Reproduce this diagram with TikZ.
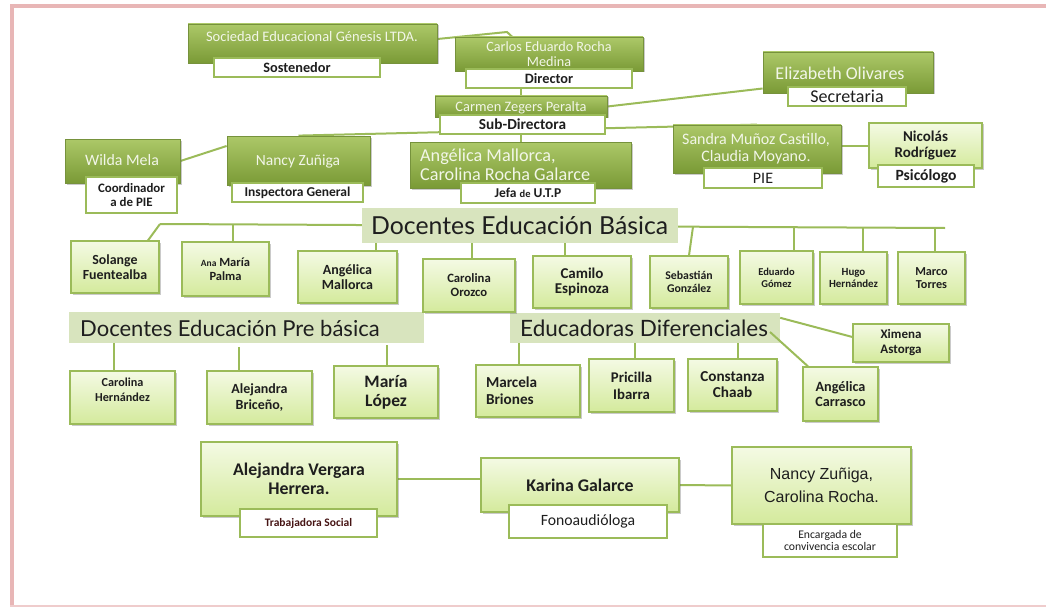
\documentclass[tikz,border=0pt]{standalone}
\usepackage{fontspec}
\setmainfont{Carlito}
\newfontfamily\hdrfont{Lato}
\newfontfamily\arialf{Liberation Sans}
\usetikzlibrary{shadows,calc}
\pgfdeclarelayer{bg}
\pgfsetlayers{bg,main}
\definecolor{dtop}{RGB}{172,200,104}
\definecolor{dbot}{RGB}{122,154,54}
\definecolor{dborder}{RGB}{118,146,60}
\definecolor{ltop}{RGB}{244,250,228}
\definecolor{lbot}{RGB}{212,234,156}
\definecolor{lborder}{RGB}{155,187,89}
\definecolor{hfill}{RGB}{216,228,190}
\definecolor{txt}{RGB}{30,30,30}
\definecolor{wtxt}{RGB}{242,246,232}
\definecolor{pinkb}{RGB}{232,182,182}
\definecolor{tsred}{RGB}{70,20,20}
\newcommand\fs[2]{\fontsize{#1}{#2}\selectfont}
\newcommand\gb[7]{\node[#1,minimum width={(#5-#3)*1pt},minimum height={(#6-#4)*1pt}] (#2) at ({(#3+#5)/2},{(#4+#6)/2}) {#7};}
\begin{document}
\begin{tikzpicture}[x=1pt,y=-1pt,
  ln/.style={draw=lborder, line width=2pt},
  shd/.style={drop shadow={shadow xshift=1.5pt, shadow yshift=-1.5pt, opacity=0.35, fill=black!60}},
  dbox/.style={rectangle, draw=dborder, line width=0.8pt, top color=dtop, bottom color=dbot, shd, inner sep=0pt},
  lbox/.style={rectangle, draw=lborder, line width=1.2pt, top color=ltop, bottom color=lbot, shd, inner sep=0pt, align=center, text=txt, font=\bfseries},
  tag/.style={rectangle, draw=lborder, line width=1.5pt, fill=white, inner sep=0pt, align=center, text=txt},
  hdr/.style={rectangle, fill=hfill, inner sep=0pt},
  wt/.style={text=wtxt, align=center, inner sep=0pt},
  htxt/.style={anchor=west, inner sep=0pt, text=txt, font=\hdrfont},
]
\useasboundingbox (0,0) rectangle (1046,607);
% frame
\draw[pinkb, line width=4pt] (10,6.5) -- (1046,6.5);
\draw[pinkb, line width=4pt] (12,4.5) -- (12,607);
\draw[pinkb!70, line width=2pt] (10,605.5) -- (1046,605.5);

% top dark boxes
\gb{dbox}{soc}{188}{24}{437}{63}{}
\gb{tag,font=\bfseries\fs{14.3}{16}}{sosL}{214}{58}{380}{77}{Sostenedor}
\node[wt,font=\fs{14.5}{16}] (socT) at (312,37) {Sociedad Educacional Génesis LTDA.};

\gb{dbox}{car}{455}{37}{643}{71}{}
\gb{tag,font=\bfseries\fs{14.3}{16}}{dirL}{466}{69}{632}{88}{Director}
\node[wt,font=\fs{14.2}{15}] (carT) at (549,54.5) {Carlos Eduardo Rocha\\Medina};

\gb{dbox}{carm}{435}{96}{607}{117}{}
\gb{tag,font=\bfseries\fs{15.3}{16}}{subL}{440}{115}{605}{134}{Sub-Directora}
\node[wt,font=\fs{14.4}{16}] (carmT) at (521,107.5) {Carmen Zegers Peralta};

\gb{dbox}{eliz}{763}{52}{933}{93}{}
\gb{tag,font=\fs{18}{18}}{secL}{788}{87}{906}{106}{Secretaria}
\node[wt,font=\fs{18}{18}] (elizT) at (840,73) {Elizabeth Olivares};

\gb{dbox}{wilda}{65}{139}{180}{183}{}
\gb{tag,font=\bfseries\fs{12.9}{14.5}}{coordL}{86}{177}{177}{213}{Coordinador\\a de PIE}
\node[wt,font=\fs{15.9}{17}] (wildaT) at (122,160) {Wilda Mela};

\gb{dbox}{nancy}{227}{136}{370}{185}{}
\gb{tag,font=\bfseries\fs{13.5}{15}}{inspL}{232}{183}{363}{202}{Inspectora General}
\node[wt,font=\fs{15.5}{17}] (nancyT) at (298,161) {Nancy Zuñiga};

\gb{dbox}{ang}{410}{142}{631}{188}{}
\gb{tag,font=\bfseries\fs{13.5}{15}}{jefaL}{461}{183}{595}{203}{Jefa {\fs{10.5}{12}de} U.T.P}
\node[wt,font=\fs{18.2}{19},align=left,anchor=west] (angT) at (420,164.5) {Angélica Mallorca,\\Carolina Rocha Galarce};

\gb{dbox}{sandra}{673}{125}{841}{173}{}
\gb{tag,font=\fs{16}{17}}{pieL}{704}{168}{822}{188}{PIE}
\node[wt,font=\fs{16}{17}] (sandraT) at (756,148.5) {Sandra Muñoz Castillo,\\Claudia Moyano.};

\gb{lbox,font=\bfseries\fs{15}{16}}{nicolas}{869}{123}{982}{168}{Nicolás\\Rodríguez}
\gb{tag,font=\bfseries\fs{15.6}{16}}{psiL}{878}{165}{974}{187}{Psicólogo}

% headers
\gb{hdr}{hBas}{362}{208}{678}{243}{}
\node[htxt,font=\hdrfont\fs{24.8}{26}] (hBasT) at (371,225.5) {Docentes Educación Básica};
\gb{hdr}{hPre}{69}{312}{424}{343}{}
\node[htxt,font=\hdrfont\fs{22}{24}] (hPreT) at (80,328) {Docentes Educación Pre básica};
\gb{hdr}{hDif}{510}{313}{780}{343}{}
\node[htxt,font=\hdrfont\fs{22.5}{24}] (hDifT) at (520,328) {Educadoras Diferenciales};

% basica row
\gb{lbox,font=\bfseries\fs{13.9}{15}}{sol}{71}{241}{159}{293}{Solange\\Fuentealba}
\gb{lbox,font=\bfseries\fs{12.5}{14}}{ana}{182}{242}{269}{296}{{\fs{9.5}{11}Ana} María\\Palma}
\gb{lbox,font=\bfseries\fs{14}{15.5}}{angM}{298}{251}{397}{303}{Angélica\\Mallorca}
\gb{lbox,font=\bfseries\fs{12.7}{14}}{carO}{423}{259}{515}{312}{Carolina\\Orozco}
\gb{lbox,font=\bfseries\fs{15}{15.5}}{cam}{533}{256}{631}{308}{Camilo\\Espinoza}
\gb{lbox,font=\bfseries\fs{11.8}{13.5}}{seb}{650}{256}{728}{308}{Sebastián\\González}
\gb{lbox,font=\bfseries\fs{10.5}{12}}{edu}{740}{251}{813}{304}{Eduardo\\Gómez}
\gb{lbox,font=\bfseries\fs{10.9}{12}}{hugo}{820}{252}{887}{304}{Hugo\\Hernández}
\gb{lbox,font=\bfseries\fs{12.2}{12.5}}{marco}{898}{252}{965}{304}{Marco\\Torres}

% pre basica row
\gb{lbox,font=\bfseries\fs{12.2}{15}}{carH}{70}{371}{175}{424}{Carolina\\Hernández\\\mbox{}}
\gb{lbox,font=\bfseries\fs{14}{16}}{aleB}{207}{371}{312}{424}{Alejandra\\Briceño,}
\gb{lbox,font=\bfseries\fs{17.5}{19}}{mar}{334}{366}{438}{418}{María\\López}

% diferenciales row
\gb{lbox,font=\bfseries\fs{15.2}{17},align=left,text width=84pt}{marc}{476}{365}{580}{417}{Marcela\\Briones}
\gb{lbox,font=\bfseries\fs{14.8}{17}}{pri}{589}{359}{674}{412}{Pricilla\\Ibarra}
\gb{lbox,font=\bfseries\fs{15.2}{16}}{con}{688}{359}{777}{411}{Constanza\\Chaab}
\gb{lbox,font=\bfseries\fs{14.2}{15}}{angC}{803}{367}{878}{421}{Angélica\\Carrasco}
\gb{lbox,font=\bfseries\fs{13}{15}}{xim}{853}{324}{949}{362}{Ximena\\Astorga}

% bottom row
\gb{lbox,font=\fs{17.8}{19}\bfseries}{aleV}{201}{442}{397}{516}{Alejandra Vergara\\Herrera.}
\gb{tag,font=\bfseries\fs{11.5}{12},text=tsred}{tsL}{240}{509}{377}{537}{Trabajadora Social}
\gb{lbox,font=\fs{17.8}{19}\bfseries}{kar}{481}{458}{679}{512}{Karina Galarce}
\gb{tag,font=\fs{15.7}{17}}{fonoL}{509}{505}{667}{538}{Fonoaudióloga}
\gb{lbox,font=\arialf\fs{16}{23}}{nz}{732}{447}{911}{524}{Nancy Zuñiga,\\Carolina Rocha.}
\gb{tag,font=\fs{11.7}{12}}{encL}{763}{524}{897}{557}{Encargada de\\convivencia escolar}

% connectors (behind)
\begin{pgfonlayer}{bg}
\coordinate (k1) at (507,32);
\draw[ln] ([yshift=4.5pt]soc.east) -- (k1) -- ([xshift=-37pt]car.north);
\draw[ln] (carm.north) -- (carm.north |- dirL.south);
\draw[ln] (carm.east) -- ([yshift=-16pt]eliz.west);
\draw[ln] (ang.north) -- (ang.north |- subL.south);
\draw[ln] (nancy.north) -- (sandra.north);
\draw[ln] (wilda.east) -- ([yshift=14.5pt]nancy.west);
\draw[ln] (nicolas.west) -- (nicolas.west -| sandra.east);
\coordinate (bL) at (160,224);
\coordinate (bR) at (945,228);
\coordinate (sebT) at (693,226.7);
\draw[ln] (bL) -- (bR);
\draw[ln] (bL) -- ([xshift=33pt]sol.north);
\draw[ln] ([xshift=7.5pt]ana.north) -- ([xshift=7.5pt]ana.north |- bL);
\draw[ln] ([xshift=28.5pt]angM.north) -- ([xshift=28.5pt]angM.north |- hBas.south);
\draw[ln] ([xshift=3pt]carO.north) -- ([xshift=3pt]carO.north |- hBas.south);
\draw[ln] ([xshift=-17pt]cam.north) -- ([xshift=-17pt]cam.north |- hBas.south);
\draw[ln] (sebT) -- (seb.north);
\draw[ln] ([xshift=17.5pt]edu.north) -- ([xshift=17.5pt]edu.north |- bR);
\draw[ln] ([xshift=9.5pt]hugo.north) -- ([xshift=9.5pt]hugo.north |- bR);
\draw[ln] ([xshift=3.5pt]marco.north) -- ([xshift=3.5pt]marco.north |- bR);
\draw[ln] ([xshift=-8.5pt]carH.north) -- ([xshift=-8.5pt]carH.north |- hPre.south);
\draw[ln] ([xshift=-20.5pt]aleB.north) -- ++(0,-23);
\draw[ln] ([xshift=1pt]mar.north) -- ++(0,-20);
\draw[ln] ([xshift=-9pt]marc.north) -- ([xshift=-9pt]marc.north |- hDif.south);
\draw[ln] ([xshift=3.5pt]pri.north) -- ([xshift=3.5pt]pri.north |- hDif.south);
\draw[ln] ([xshift=5.5pt]con.north) -- ([xshift=5.5pt]con.north |- hDif.south);
\draw[ln] (aleV.east) -- (aleV.east -| kar.west);
\draw[ln] (kar.east) -- (nz.west);
\end{pgfonlayer}
\coordinate (dA) at (770,332);
\draw[ln] (dA) -- ([xshift=-32.5pt]angC.north);
\draw[ln] ([yshift=-5pt]hDif.north east) -- ([yshift=6pt]xim.west);
\end{tikzpicture}
\end{document}
